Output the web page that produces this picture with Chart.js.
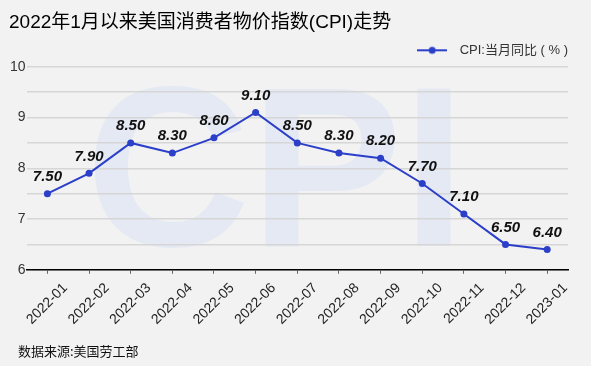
<!DOCTYPE html>
<html>
<head>
<meta charset="utf-8">
<script src="https://cdn.jsdelivr.net/npm/chart.js@4.4.0/dist/chart.umd.min.js"></script>
<style>
  html, body { margin: 0; padding: 0; background: #f2f2f2; }
  #chart { display: block; }
</style>
</head>
<body>
<canvas id="chart" width="591" height="366"></canvas>
<script>
var months = ['2022-01', '2022-02', '2022-03', '2022-04', '2022-05', '2022-06', '2022-07',
              '2022-08', '2022-09', '2022-10', '2022-11', '2022-12', '2023-01'];
var cpiYoY = [7.5, 7.9, 8.5, 8.3, 8.6, 9.1, 8.5, 8.3, 8.2, 7.7, 7.1, 6.5, 6.4];
var seriesName = 'CPI:当月同比 ( % )';
var titleText = '2022年1月以来美国消费者物价指数(CPI)走势';
var sourceText = '数据来源:美国劳工部';

var lineColor = '#2b3fc9';
var fontFamily = '"Liberation Sans", Arial, "Noto Sans CJK SC", sans-serif';

// legend marker: short line with a dot in the middle
var marker = document.createElement('canvas');
marker.width = 30;
marker.height = 10;
var mctx = marker.getContext('2d');
mctx.strokeStyle = lineColor;
mctx.lineWidth = 2;
mctx.beginPath();
mctx.moveTo(0, 5);
mctx.lineTo(30, 5);
mctx.stroke();
mctx.fillStyle = lineColor;
mctx.beginPath();
mctx.arc(15, 5, 3.5, 0, Math.PI * 2);
mctx.fill();

var backdrop = {
    id: 'backdrop',
    beforeDraw: function (chart) {
        var c = chart.ctx, a = chart.chartArea;
        c.save();
        c.fillStyle = '#f2f2f2';
        c.fillRect(0, 0, chart.width, chart.height);
        // faint CPI watermark
        c.fillStyle = '#e4e9f3';
        c.font = 'bold 228px ' + fontFamily;
        c.textAlign = 'left';
        c.textBaseline = 'alphabetic';
        c.fillText('CPI', a.left + 59, a.top + 179);
        c.restore();
    },
    afterDraw: function (chart) {
        var c = chart.ctx;
        c.save();
        c.fillStyle = '#111';
        c.font = '13px "Noto Sans CJK SC", sans-serif';
        c.textBaseline = 'middle';
        c.fillText(sourceText, 18, 351);
        c.restore();
    }
};

var valueLabels = {
    id: 'valueLabels',
    afterDatasetsDraw: function (chart) {
        var c = chart.ctx;
        var meta = chart.getDatasetMeta(0);
        c.save();
        c.fillStyle = '#111';
        c.font = 'italic bold 15px ' + fontFamily;
        c.textAlign = 'center';
        c.textBaseline = 'middle';
        meta.data.forEach(function (pt, i) {
            c.fillText(cpiYoY[i].toFixed(2), pt.x, pt.y - 17);
        });
        c.restore();
    }
};

var ctx = document.getElementById('chart').getContext('2d');
var chart = new Chart(ctx, {
    type: 'line',
    data: {
        labels: months,
        datasets: [{
            label: seriesName,
            data: cpiYoY,
            borderColor: lineColor,
            backgroundColor: lineColor,
            borderWidth: 2,
            pointRadius: 3.5,
            pointBackgroundColor: lineColor,
            pointBorderWidth: 0,
            tension: 0
        }]
    },
    options: {
        responsive: false,
        animation: false,
        layout: { padding: { left: 9, right: 23, top: 4, bottom: 32 } },
        plugins: {
            title: {
                display: true,
                text: titleText,
                align: 'start',
                color: '#000',
                font: { family: fontFamily, size: 19, weight: 'normal' },
                padding: { top: 7, bottom: 10 }
            },
            legend: {
                display: true,
                position: 'top',
                align: 'end',
                labels: {
                    usePointStyle: true,
                    pointStyle: marker,
                    pointStyleWidth: 42,
                    color: '#333',
                    font: { family: fontFamily, size: 13, lineHeight: 1 },
                    padding: 0
                }
            },
            tooltip: { enabled: false }
        },
        scales: {
            x: {
                offset: true,
                grid: {
                    display: true,
                    drawOnChartArea: false,
                    drawTicks: true,
                    offset: false,
                    tickLength: 4,
                    color: '#666'
                },
                border: { display: true, color: '#000', width: 1.5 },
                ticks: {
                    color: '#222',
                    font: { family: fontFamily, size: 14 },
                    maxRotation: 45,
                    minRotation: 45,
                    autoSkip: false,
                    padding: 6,
                    labelOffset: 18
                }
            },
            y: {
                min: 6,
                max: 10,
                grid: {
                    color: '#d6d6d6',
                    lineWidth: 1.5,
                    drawTicks: false
                },
                border: { display: false },
                ticks: {
                    stepSize: 0.5,
                    color: '#333',
                    padding: 1,
                    font: { family: fontFamily, size: 14 },
                    callback: function (v) { return Number.isInteger(v) ? String(v) : ''; }
                }
            }
        }
    },
    plugins: [backdrop, valueLabels]
});
</script>
</body>
</html>
